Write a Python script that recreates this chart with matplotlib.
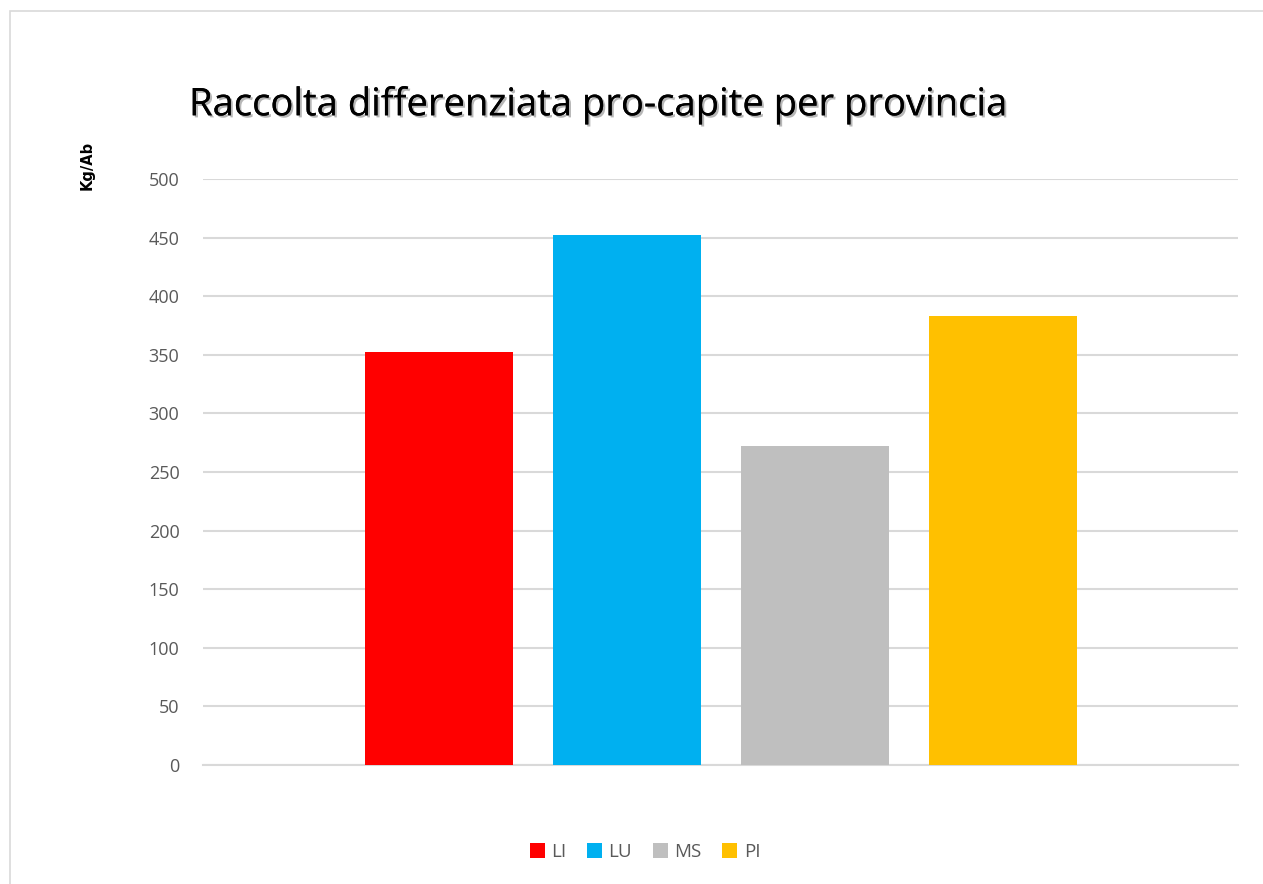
import matplotlib
matplotlib.use("Agg")
import matplotlib.pyplot as plt
import matplotlib.patheffects as pe
from matplotlib.patches import Rectangle, Patch

series = ["LI", "LU", "MS", "PI"]
values = [352, 452, 272, 383]
colors = ["#FF0000", "#00B0F0", "#BFBFBF", "#FFC000"]
yticks = [0, 50, 100, 150, 200, 250, 300, 350, 400, 450, 500]

W, H = 1263, 884
fig = plt.figure(figsize=(W / 100, H / 100), dpi=100)
fig.patch.set_facecolor("white")

# outer chart frame
fig.add_artist(Rectangle((10 / W, -0.05), 1.2, 1 - 11 / H + 0.05,
                         transform=fig.transFigure, fill=False,
                         edgecolor="#D9D9D9", linewidth=1.2))

left, right = 203 / W, 1238 / W
bottom, top = 1 - 765 / H, 1 - 179 / H
ax = fig.add_axes([left, bottom, right - left, top - bottom])

step = 188 / 1035
width = 148 / 1035
handles = []
for i, (s, v, c) in enumerate(zip(series, values, colors)):
    x = (i - 1.5) * step
    ax.bar(x, v, width=width, color=c, zorder=3)
    handles.append(Patch(facecolor=c, edgecolor="none", label=s))

ax.set_xlim(-0.5, 0.5)
ax.set_ylim(0, 500)
ax.set_yticks(yticks)
ax.set_xticks([])
ax.yaxis.grid(True, color="#D9D9D9", linewidth=1.5, zorder=0)
for sp in ["top", "right", "left"]:
    ax.spines[sp].set_visible(False)
ax.spines["bottom"].set_color("#D9D9D9")
ax.spines["bottom"].set_linewidth(1.5)
ax.tick_params(axis="y", length=0, pad=17, labelsize=13, labelcolor="#595959")
for lab in ax.get_yticklabels():
    lab.set_fontfamily("Open Sans")

fig.text(189 / W, 1 - 105 / H, "Raccolta differenziata pro-capite per provincia",
         ha="left", va="center", fontsize=27.5, fontfamily="Open Sans", color="#000000",
         path_effects=[pe.withSimplePatchShadow(offset=(1.5, -1.5), shadow_rgbFace="#888888", alpha=0.6), pe.Normal()])

fig.text(87 / W, 1 - 165 / H, "Kg/Ab", rotation=90, ha="center", va="center",
         fontsize=10.5, fontweight="bold", fontfamily="DejaVu Sans", color="#000000")

leg = fig.legend(handles=handles, loc="center", bbox_to_anchor=(645 / W, 1 - 852 / H), ncol=4,
                 frameon=False, handlelength=0.8, handleheight=0.8,
                 handletextpad=0.35, columnspacing=1.1,
                 prop={"family": "Open Sans", "size": 13.5})
for t in leg.get_texts():
    t.set_color("#595959")

fig.savefig("out.png", dpi=100, facecolor="white")
